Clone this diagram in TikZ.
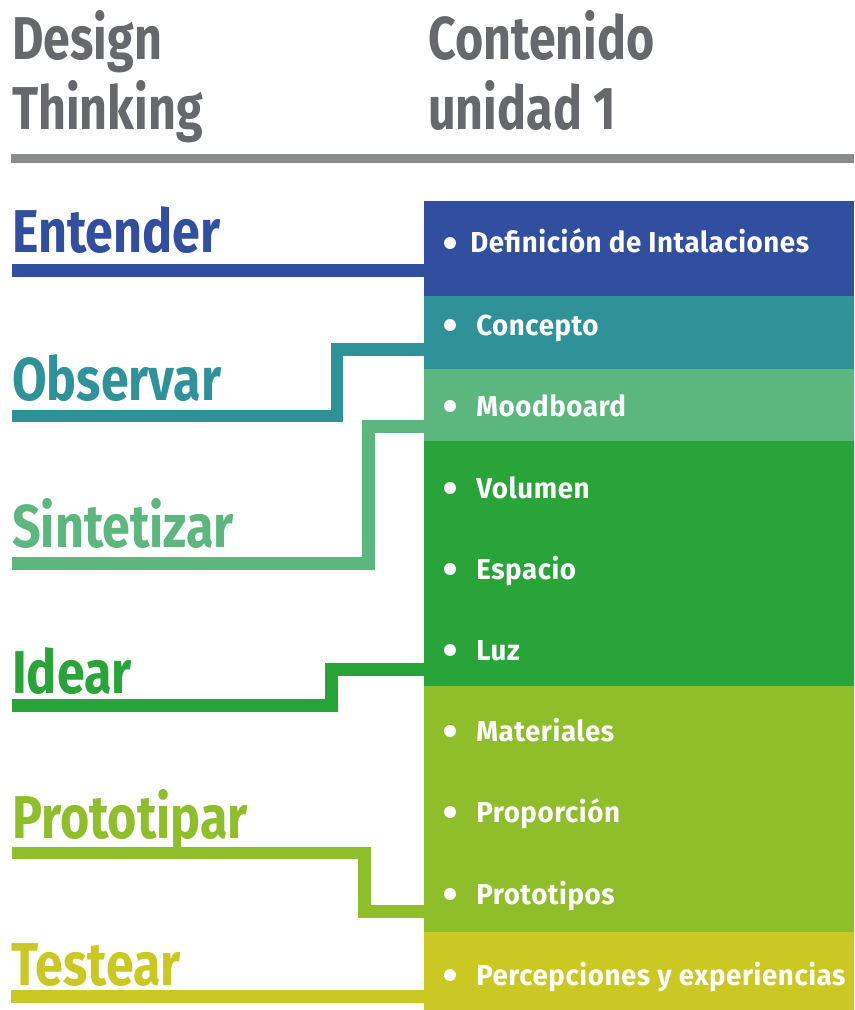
\documentclass[tikz,border=0pt]{standalone}
\usepackage{fontspec}
\setmainfont{Fira Sans}
\newfontfamily\headfont[FakeStretch=0.8]{Fira Sans}
\newfontfamily\stagefont[FakeStretch=0.83]{Fira Sans}
\newfontfamily\itemfont[FakeStretch=0.96, LetterSpace=2]{Fira Sans}
\definecolor{headgray}{HTML}{67686B}
\definecolor{rulegray}{HTML}{8A8B8D}
\definecolor{dtblue}{HTML}{314F9E}
\definecolor{dtteal}{HTML}{2F9299}
\definecolor{dtmint}{HTML}{5CB77E}
\definecolor{dtgreen}{HTML}{28A438}
\definecolor{dtlime}{HTML}{8EBE2A}
\definecolor{dtolive}{HTML}{CBC823}
\begin{document}
\begin{tikzpicture}[x=0.025cm, y=-0.025cm,
    head/.style={anchor=base west, inner sep=0pt, text=headgray,
      font=\headfont\bfseries\fontsize{43}{50}\selectfont},
    stage/.style={anchor=base west, inner sep=0pt, text=#1,
      font=\stagefont\bfseries\fontsize{43}{50}\selectfont},
    link/.style={draw=#1, line width=9.2pt},
    band/.style={fill=#1, anchor=north west, inner sep=0pt, outer sep=0pt,
      minimum width=430*0.025cm},
    dot/.style={circle, fill=white, inner sep=0pt, minimum size=8.5pt},
    item/.style={anchor=base west, inner sep=0pt, text=white,
      font=\itemfont\bfseries\fontsize{20.5}{24}\selectfont}]
  \useasboundingbox (0,0) rectangle (854,1010);

  % titles
  \node[head] (design) at (12,60) {Design};
  \node[head] (thinking) at (12,130) {Thinking};
  \node[head] (contenido) at (428,60) {Contenido};
  \node[head] (unidad) at (428,130) {unidad 1};
  \draw[rulegray, line width=5.7pt] (11,158.5) -- (854,158.5);

  % content bands
  \node[band=dtblue, minimum height=95*0.025cm] (entenderbox) at (424,201) {};
  \node[band=dtteal, minimum height=73*0.025cm] (observarbox) at (424,296) {};
  \node[band=dtmint, minimum height=72*0.025cm] (sintetizarbox) at (424,369) {};
  \node[band=dtgreen, minimum height=245*0.025cm] (idearbox) at (424,441) {};
  \node[band=dtlime, minimum height=246*0.025cm] (prototiparbox) at (424,686) {};
  \node[band=dtolive, minimum height=78*0.025cm] (testearbox) at (424,932) {};

  % items
  \node[dot] (dot243) at (450,243) {};
  \node[item] (def) at (470,253) {Definición de Intalaciones};
  \foreach \y/\txt in {325/Concepto, 406/Moodboard, 488/Volumen, 569/Espacio,
      650/Luz, 731/Materiales, 812/Proporción, 894/Prototipos,
      975/Percepciones y experiencias} {
    \node[dot] (dot\y) at (450,\y) {};
    \node[item] (item\y) at (476,\y+10) {\txt};
  }

  % stages
  \node[stage=dtblue] (entender) at (12,253) {Entender};
  \node[stage=dtteal] (observar) at (12,400) {Observar};
  \node[stage=dtmint] (sintetizar) at (12,547) {Sintetizar};
  \node[stage=dtgreen] (idear) at (12,693) {Idear};
  \node[stage=dtlime] (prototipar) at (12,838) {Prototipar};
  \node[stage=dtolive] (testear) at (11,985) {Testear};

  % connectors
  \coordinate (e0) at (12,270.5);
  \coordinate (o0) at (12,416);
  \coordinate (s0) at (12,563.5);
  \coordinate (i0) at (12,705.5);
  \coordinate (p0) at (12,853);
  \coordinate (t0) at (11,996.5);
  \draw[link=dtblue] (e0) -- (entenderbox.west |- e0);
  \draw[link=dtteal] (o0) -- (337,416) -- (337,349.5) -- (observarbox.west |- 0,349.5);
  \draw[link=dtmint] (s0) -- (368.5,563.5) -- (368.5,426.5) -- (sintetizarbox.west |- 0,426.5);
  \draw[link=dtgreen] (i0) -- (331.5,705.5) -- (331.5,669.5) -- (idearbox.west |- 0,669.5);
  \draw[link=dtlime] (p0) -- (364.5,853) -- (364.5,911.5) -- (prototiparbox.west |- 0,911.5);
  \draw[link=dtolive] (t0) -- (testearbox.west |- t0);
\end{tikzpicture}
\end{document}
